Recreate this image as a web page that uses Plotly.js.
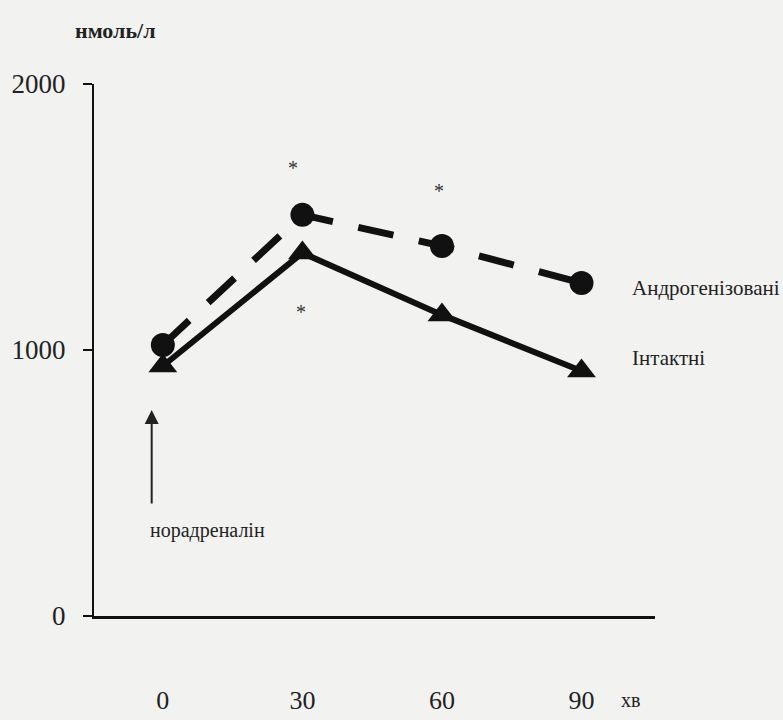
<!DOCTYPE html>
<html>
<head>
<meta charset="utf-8">
<script src="https://cdn.plot.ly/plotly-3.0.1.min.js"></script>
<style>
html,body{margin:0;padding:0;background:#f2f2f1;}
#chart{width:783px;height:720px;}
</style>
</head>
<body>
<div id="chart"></div>
<script>
// Time, minutes
const minutes = [0, 30, 60, 90];
const tickLabels = ["0", "30", "60", "90"];
const tickValues = [0, 30, 60, 90];
const yTickValues = [0, 1000, 2000];
const yTickLabels = ["0", "1000", "2000"];

// Series (нмоль/л)
const androName = "Андрогенізовані";
const androValues = [1019, 1508, 1391, 1252];
const intactName = "Інтактні";
const intactValues = [940, 1365, 1132, 921];

// Significance marks: [x, y]
const starX = [28, 59.4, 29.7];
const starY = [1699, 1613, 1158];

// Noradrenaline injection arrow
const arrowX = -2.4;
const arrowTailY = 417;
const arrowTipY = 774;
const arrowLabel = "норадреналін";

const serif = "Liberation Serif, Times New Roman, serif";
const ink = "#111111";

const traces = [
  {
    x: minutes, y: intactValues, name: intactName, type: "scatter", mode: "lines+markers",
    line: {color: ink, width: 6},
    marker: {symbol: "triangle-up", size: 25, color: ink},
    cliponaxis: false
  },
  {
    x: minutes, y: androValues, name: androName, type: "scatter", mode: "lines+markers",
    line: {color: ink, width: 7, dash: "36px,26px"},
    marker: {symbol: "circle", size: 24, color: ink},
    cliponaxis: false
  }
];

const annotations = [];
for (let i = 0; i < starX.length; i++) {
  annotations.push({x: starX[i], y: starY[i], xref: "x", yref: "y", text: "*", showarrow: false,
    font: {family: serif, size: 20, color: "#333"}, yshift: -4});
}
annotations.push({x: minutes[3] + 10.5, y: androValues[3] - 19, xref: "x", yref: "y", text: androName,
  showarrow: false, xanchor: "left", yanchor: "middle", font: {family: serif, size: 21, color: "#222"}});
annotations.push({x: minutes[3] + 10.5, y: intactValues[3] + 49, xref: "x", yref: "y", text: intactName,
  showarrow: false, xanchor: "left", yanchor: "middle", font: {family: serif, size: 21, color: "#222"}});
annotations.push({x: arrowX, y: arrowTipY, ax: arrowX, ay: arrowTailY, xref: "x", yref: "y", axref: "x", ayref: "y",
  text: "", showarrow: true, arrowhead: 2, arrowsize: 1.4, arrowwidth: 2, arrowcolor: "#222"});
annotations.push({x: -3.2, y: 323, xref: "x", yref: "y", text: arrowLabel, showarrow: false,
  xanchor: "left", yanchor: "middle", font: {family: serif, size: 20, color: "#222"}});
annotations.push({x: 0.039, y: 1.1015, xref: "paper", yref: "paper", text: "<b>нмоль/л</b>", showarrow: false,
  xanchor: "center", yanchor: "middle", font: {family: serif, size: 22, color: "#222"}});
annotations.push({x: 100.6, y: -0.158, xref: "x", yref: "paper", text: "хв", showarrow: false,
  xanchor: "center", yanchor: "middle", font: {family: serif, size: 20, color: "#222"}});

const layout = {
  width: 783, height: 720,
  paper_bgcolor: "#f2f2f1", plot_bgcolor: "rgba(0,0,0,0)",
  margin: {l: 94, r: 128, t: 84, b: 104},
  showlegend: false,
  xaxis: {
    range: [-14.8, 105.8], showgrid: false, zeroline: false,
    showline: true, linecolor: ink, linewidth: 3,
    tickvals: tickValues, ticktext: tickLabels, ticks: "",
    ticklabelstandoff: 59,
    tickfont: {family: serif, size: 26, color: "#222"}
  },
  yaxis: {
    range: [0, 2000], showgrid: false, zeroline: false,
    showline: true, linecolor: ink, linewidth: 2,
    tickvals: yTickValues, ticktext: yTickLabels, ticks: "outside", ticklen: 9, tickwidth: 2, tickcolor: ink,
    ticklabelstandoff: 12,
    tickfont: {family: serif, size: 27, color: "#222"}
  },
  annotations: annotations
};

Plotly.newPlot("chart", traces, layout, {staticPlot: true, displayModeBar: false});
</script>
</body>
</html>
